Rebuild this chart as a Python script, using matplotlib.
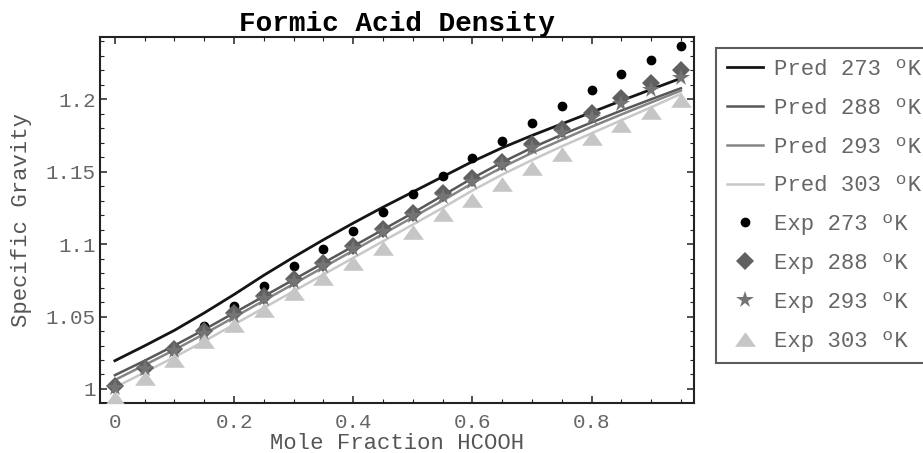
import matplotlib
matplotlib.use('Agg')
import matplotlib.pyplot as plt
from matplotlib.ticker import MultipleLocator, FuncFormatter

plt.rcParams['font.family'] = ['Liberation Mono', 'DejaVu Sans Mono']

# mole fraction HCOOH
mole_frac = [0.00, 0.05, 0.10, 0.15, 0.20, 0.25, 0.30, 0.35, 0.40, 0.45,
             0.50, 0.55, 0.60, 0.65, 0.70, 0.75, 0.80, 0.85, 0.90, 0.95]

# predicted specific gravity
pred_273 = [1.0195, 1.0298, 1.0405, 1.0525, 1.0652, 1.0785, 1.0910, 1.1030, 1.1145, 1.1255,
            1.1360, 1.1465, 1.1570, 1.1665, 1.1750, 1.1830, 1.1910, 1.1990, 1.2068, 1.2145]
pred_288 = [1.0095, 1.0195, 1.0300, 1.0410, 1.0525, 1.0640, 1.0755, 1.0870, 1.0985, 1.1100,
            1.1215, 1.1335, 1.1455, 1.1565, 1.1665, 1.1755, 1.1840, 1.1922, 1.2000, 1.2076]
pred_293 = [1.0062, 1.0165, 1.0270, 1.0380, 1.0495, 1.0610, 1.0725, 1.0840, 1.0955, 1.1070,
            1.1185, 1.1300, 1.1420, 1.1530, 1.1630, 1.1720, 1.1810, 1.1895, 1.1978, 1.2060]
pred_303 = [1.0010, 1.0115, 1.0220, 1.0330, 1.0445, 1.0560, 1.0675, 1.0790, 1.0905, 1.1020,
            1.1135, 1.1250, 1.1370, 1.1480, 1.1580, 1.1675, 1.1765, 1.1855, 1.1945, 1.2037]

# experimental specific gravity
exp_273 = [1.0030, 1.0155, 1.0290, 1.0437, 1.0574, 1.0712, 1.0846, 1.0966, 1.1094, 1.1225,
           1.1347, 1.1469, 1.1593, 1.1712, 1.1834, 1.1952, 1.2062, 1.2172, 1.2273, 1.2368]
exp_288 = [1.0018, 1.0145, 1.0276, 1.0397, 1.0524, 1.0639, 1.0759, 1.0869, 1.0988, 1.1103,
           1.1218, 1.1350, 1.1455, 1.1570, 1.1690, 1.1797, 1.1903, 1.2007, 1.2115, 1.2202]
exp_293 = [1.0010, 1.0135, 1.0262, 1.0382, 1.0505, 1.0622, 1.0740, 1.0850, 1.0968, 1.1082,
           1.1195, 1.1325, 1.1430, 1.1545, 1.1662, 1.1770, 1.1870, 1.1965, 1.2064, 1.2145]
exp_303 = [0.9935, 1.0076, 1.0202, 1.0328, 1.0443, 1.0547, 1.0662, 1.0766, 1.0869, 1.0972,
           1.1087, 1.1206, 1.1306, 1.1415, 1.1524, 1.1625, 1.1730, 1.1823, 1.1914, 1.1995]

temps = ['273', '288', '293', '303']

fig = plt.figure(figsize=(9.23, 4.53), dpi=100)
ax = fig.add_axes([100/923, 1-403/453, 594/923, 366/453])

line_cols = ['#151515', '#585858', '#858585', '#c8c8c8']
line_ws = [2.0, 1.8, 1.8, 1.8]
for ys, c, lw, t in zip([pred_273, pred_288, pred_293, pred_303], line_cols, line_ws, temps):
    ax.plot(mole_frac, ys, color=c, lw=lw, label='Pred %s ºK' % t, zorder=2)

tri = [(-1, -0.7), (1, -0.7), (0, 0.7)]
ax.plot(mole_frac, exp_273, 'o', color='black', ms=6, label='Exp 273 ºK', zorder=3)
ax.plot(mole_frac, exp_288, 'D', color='#606060', ms=9, mew=0, label='Exp 288 ºK', zorder=3)
ax.plot(mole_frac, exp_293, '*', color='#747474', ms=13, mew=0, label='Exp 293 ºK', zorder=3)
ax.plot(mole_frac, exp_303, marker=tri, ls='none', color='#c6c6c6', ms=15, mew=0,
        label='Exp 303 ºK', zorder=3)

ax.set_xlim(-0.025, 0.972)
ax.set_ylim(0.9903, 1.243)

ax.xaxis.set_major_locator(MultipleLocator(0.2))
ax.xaxis.set_minor_locator(MultipleLocator(0.05))
ax.yaxis.set_major_locator(MultipleLocator(0.05))
ax.yaxis.set_minor_locator(MultipleLocator(0.01))
ax.xaxis.set_major_formatter(FuncFormatter(lambda v, p: '%g' % round(v, 3)))
ax.yaxis.set_major_formatter(FuncFormatter(lambda v, p: '%g' % round(v, 3)))
ax.tick_params(which='both', direction='in', top=True, right=True, color='#222222')
ax.tick_params(which='major', length=5, width=1.1, labelsize=15, labelcolor='#666666')
ax.tick_params(which='minor', length=3, width=0.8)
ax.tick_params(axis='x', pad=7)
ax.tick_params(axis='y', pad=3)
for s in ax.spines.values():
    s.set_linewidth(1.5)
    s.set_color('#222222')

ax.set_xlabel('Mole Fraction HCOOH', fontsize=16, color='#555555', labelpad=1)
ax.set_ylabel('Specific Gravity', fontsize=16, color='#555555', labelpad=10)
ax.set_title('Formic Acid Density', fontsize=20, fontweight='bold', color='black', pad=4)

h, l = ax.get_legend_handles_labels()
leg = fig.legend(h, l, loc='upper left', bbox_to_anchor=(716/923, 1-48/453),
                 fontsize=16, frameon=True, fancybox=False, borderpad=0.5,
                 labelspacing=0.8, handlelength=1.6, handletextpad=0.5,
                 borderaxespad=0, numpoints=1)
leg.get_frame().set_edgecolor('#333333')
leg.get_frame().set_linewidth(1.5)
for t in leg.get_texts():
    t.set_color('#666666')

fig.savefig('out.png', dpi=100)
